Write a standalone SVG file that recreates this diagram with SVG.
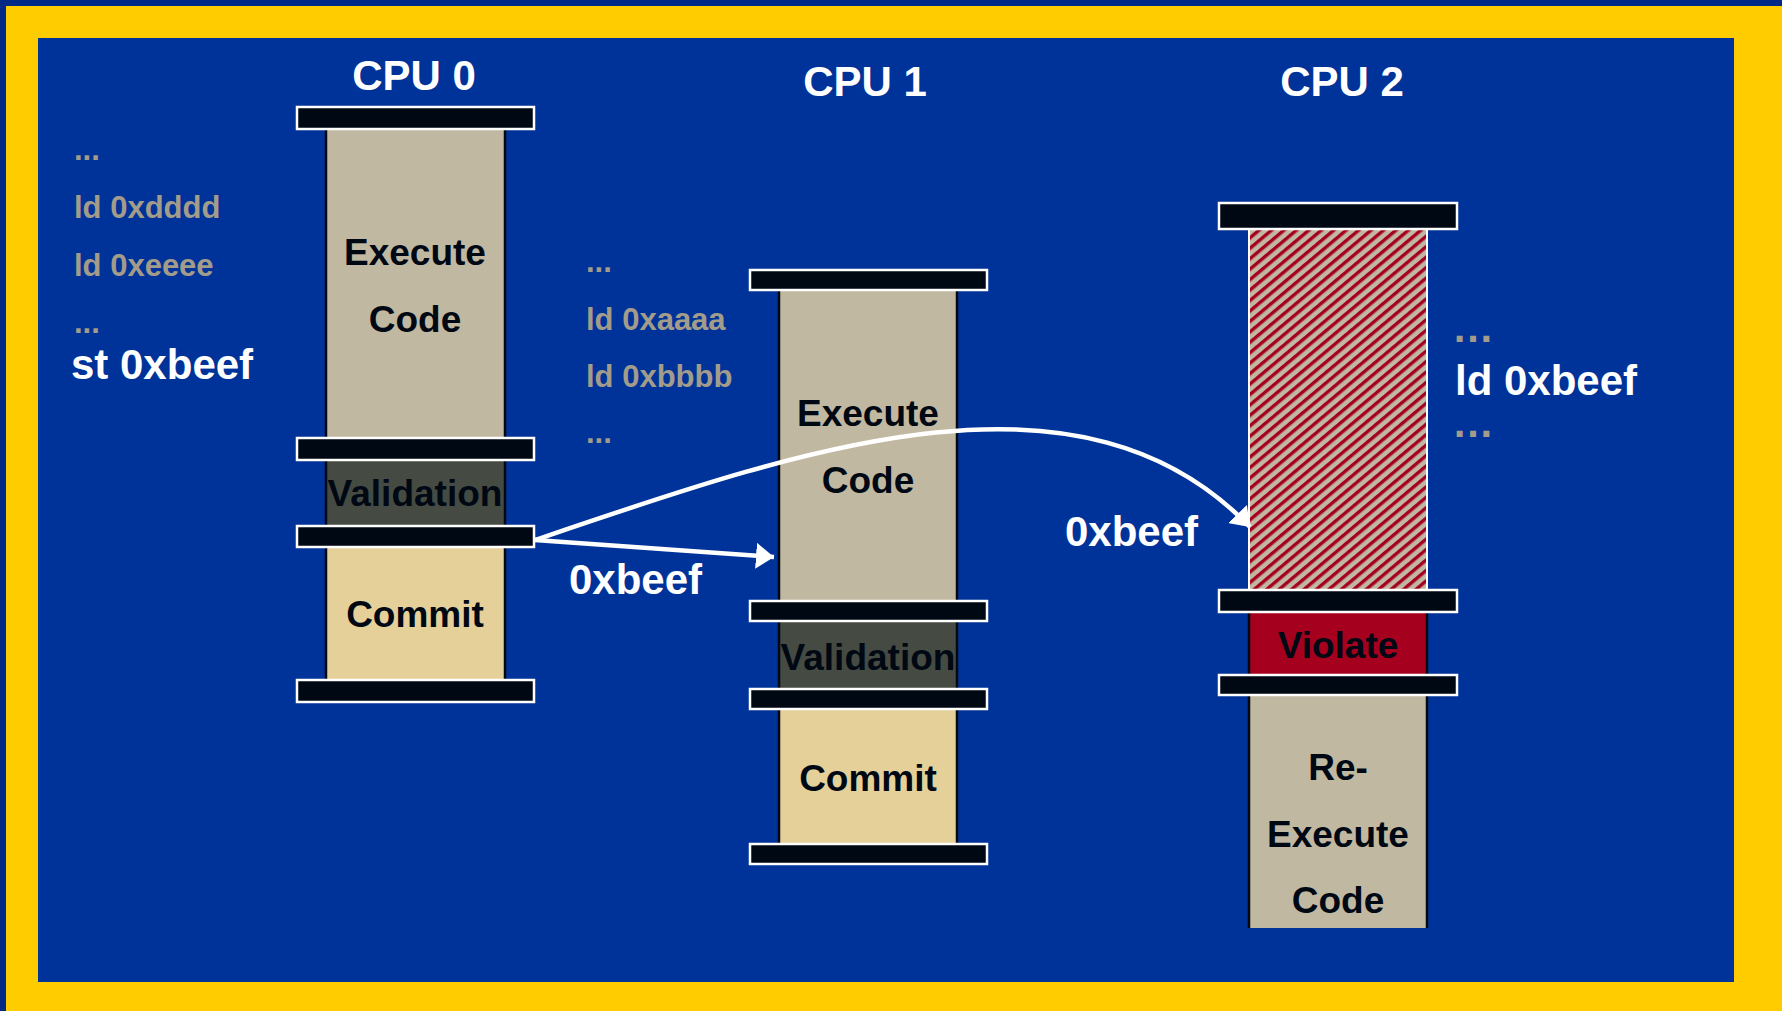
<svg xmlns="http://www.w3.org/2000/svg" width="1782" height="1011" viewBox="0 0 1782 1011">
<style>
text{font-family:"Liberation Sans",Arial,sans-serif;font-weight:bold}
.title{font-size:42px;fill:#ffffff;text-anchor:middle}
.lbl{font-size:37px;fill:#000814;text-anchor:middle}
.code{font-size:31px;fill:#A39C8A}
.wt{font-size:42px;fill:#ffffff}
.bar{fill:#000814;stroke:#ffffff;stroke-width:2.5}
.tan{fill:#C0B8A0;stroke:#000814;stroke-width:2.5}
.val{fill:#454B42;stroke:#000814;stroke-width:2.5}
.com{fill:#E5D09A;stroke:#000814;stroke-width:2.5}
.vio{fill:#A6001F;stroke:#000814;stroke-width:2.5}
.side{stroke:#000814;stroke-width:2.5}
.conn{fill:none;stroke:#ffffff;stroke-width:4.5}
</style>
<defs>
<pattern id="hatch" patternUnits="userSpaceOnUse" width="8" height="10" patternTransform="rotate(50)">
<rect width="8" height="10" fill="#C0B8A0"/>
<rect width="3.4" height="10" fill="#A50021"/>
</pattern>
<marker id="ah" markerUnits="userSpaceOnUse" markerWidth="20" markerHeight="26" refX="18" refY="13" orient="auto">
<path d="M0,0 L18,13 L0,26 z" fill="#ffffff"/>
</marker>
</defs>
<rect x="0" y="0" width="1782" height="1011" fill="#002A85"/>
<rect x="6" y="6" width="1776" height="1005" fill="#FFCC00"/>
<rect x="38" y="38" width="1696" height="944" fill="#003399"/>

<g id="cpu0">
<text class="title" x="414" y="90">CPU 0</text>
<g id="cpu0-exec"><rect class="tan" x="326" y="128" width="179" height="311"/>
<text class="lbl" x="415" y="265">Execute</text><text class="lbl" x="415" y="332">Code</text></g>
<g id="cpu0-val"><rect class="val" x="326" y="458" width="179" height="69"/>
<text class="lbl" x="415" y="506">Validation</text></g>
<g id="cpu0-commit"><rect class="com" x="326" y="546" width="179" height="135"/>
<text class="lbl" x="415" y="627">Commit</text></g>
<g id="cpu0-bars">
<rect class="bar" x="297" y="107" width="237" height="22"/>
<rect class="bar" x="297" y="438" width="237" height="22"/>
<rect class="bar" x="297" y="526" width="237" height="21"/>
<rect class="bar" x="297" y="680" width="237" height="22"/>
</g>
<g id="cpu0-code">
<text class="code" x="74" y="160">...</text>
<text class="code" x="74" y="218">ld 0xdddd</text>
<text class="code" x="74" y="276">ld 0xeeee</text>
<text class="code" x="74" y="333">...</text>
<text class="wt" x="71" y="379">st 0xbeef</text>
</g>
</g>

<g id="cpu1">
<text class="title" x="865" y="96">CPU 1</text>
<g id="cpu1-exec"><rect class="tan" x="779" y="289" width="178" height="313"/>
<text class="lbl" x="868" y="426">Execute</text><text class="lbl" x="868" y="493">Code</text></g>
<g id="cpu1-val"><rect class="val" x="779" y="620" width="178" height="70"/>
<text class="lbl" x="868" y="670">Validation</text></g>
<g id="cpu1-commit"><rect class="com" x="779" y="708" width="178" height="137"/>
<text class="lbl" x="868" y="791">Commit</text></g>
<g id="cpu1-bars">
<rect class="bar" x="750" y="270" width="237" height="20"/>
<rect class="bar" x="750" y="601" width="237" height="20"/>
<rect class="bar" x="750" y="689" width="237" height="20"/>
<rect class="bar" x="750" y="844" width="237" height="20"/>
</g>
<g id="cpu1-code">
<text class="code" x="586" y="272">...</text>
<text class="code" x="586" y="330">ld 0xaaaa</text>
<text class="code" x="586" y="387">ld 0xbbbb</text>
<text class="code" x="586" y="443">...</text>
</g>
</g>

<g id="cpu2">
<text class="title" x="1342" y="96">CPU 2</text>
<g id="cpu2-spec"><rect x="1249" y="229" width="178" height="362" fill="url(#hatch)" stroke="#ffffff" stroke-width="2"/></g>
<g id="cpu2-violate"><rect class="vio" x="1249" y="611" width="178" height="65"/>
<text class="lbl" x="1338" y="658">Violate</text></g>
<g id="cpu2-reexec"><rect x="1249" y="695" width="178" height="233" fill="#C0B8A0"/>
<line class="side" x1="1249" y1="695" x2="1249" y2="928"/><line class="side" x1="1427" y1="695" x2="1427" y2="928"/>
<text class="lbl" x="1338" y="780">Re-</text><text class="lbl" x="1338" y="847">Execute</text><text class="lbl" x="1338" y="913">Code</text></g>
<g id="cpu2-bars">
<rect class="bar" x="1219" y="203" width="238" height="26"/>
<rect class="bar" x="1219" y="590" width="238" height="22"/>
<rect class="bar" x="1219" y="675" width="238" height="20"/>
</g>
<g id="cpu2-code">
<text class="code" x="1452" y="342" style="font-size:42px">…</text>
<text class="wt" x="1455" y="395">ld 0xbeef</text>
<text class="code" x="1452" y="437" style="font-size:42px">…</text>
</g>
</g>

<g id="connectors">
<path class="conn" d="M535,540 L774,557" marker-end="url(#ah)"/>
<path class="conn" d="M535,540 C800,450 1080,350 1250,527" marker-end="url(#ah)"/>
<text class="wt" x="569" y="594">0xbeef</text>
<text class="wt" x="1065" y="546">0xbeef</text>
</g>
</svg>
